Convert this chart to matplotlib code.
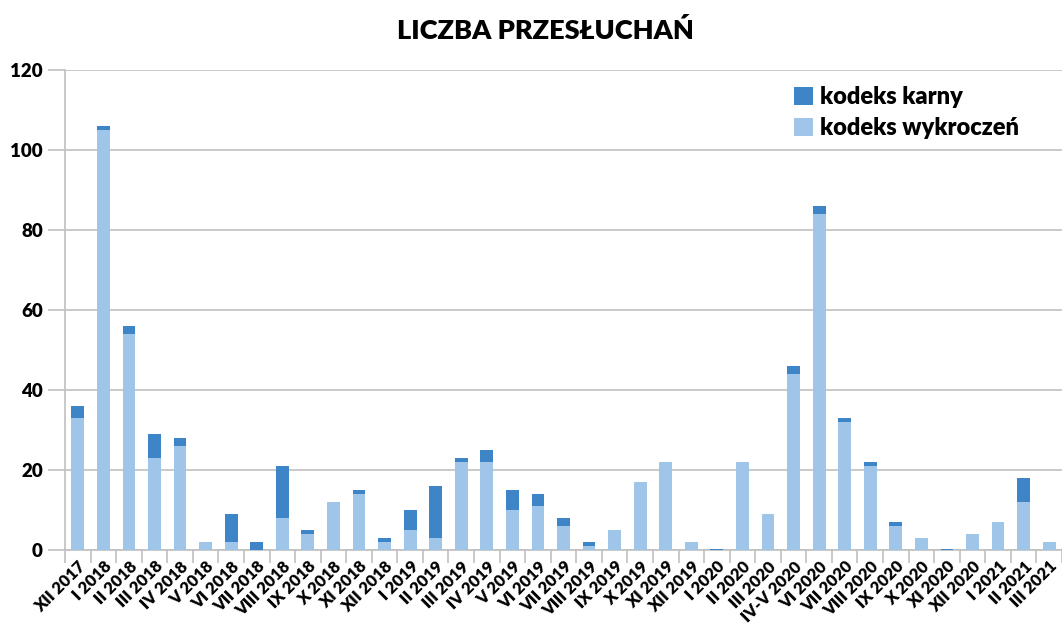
import numpy as np
import matplotlib
matplotlib.use('Agg')
import matplotlib.pyplot as plt
from matplotlib.ticker import FixedLocator, NullFormatter

months = ['XII 2017', 'I 2018', 'II 2018', 'III 2018', 'IV 2018', 'V 2018', 'VI 2018',
          'VII 2018', 'VIII 2018', 'IX 2018', 'X 2018', 'XI 2018', 'XII 2018', 'I 2019',
          'II 2019', 'III 2019', 'IV 2019', 'V 2019', 'VI 2019', 'VII 2019', 'VIII 2019',
          'IX 2019', 'X 2019', 'XI 2019', 'XII 2019', 'I 2020', 'II 2020', 'III 2020',
          'IV-V 2020', 'VI 2020', 'VII 2020', 'VIII 2020', 'IX 2020', 'X 2020', 'XI 2020',
          'XII 2020', 'I 2021', 'II 2021', 'III 2021']

wykroczen = [33, 105, 54, 23, 26, 2, 2, 0, 8, 4, 12, 14, 2, 5, 3, 22, 22, 10, 11, 6, 1,
             5, 17, 22, 2, 0, 22, 9, 44, 84, 32, 21, 6, 3, 0, 4, 7, 12, 2]
karny = [3, 1, 2, 6, 2, 0, 7, 2, 13, 1, 0, 1, 1, 5, 13, 1, 3, 5, 3, 2, 1,
         0, 0, 0, 0, 0.3, 0, 0, 2, 2, 1, 1, 1, 0, 0.3, 0, 0, 6, 0]

light = '#9fc5e8'
dark = '#3d85c6'
grid_c = '#c0c0c0'

plt.rcParams['font.family'] = ['Lato', 'DejaVu Sans']

fig = plt.figure(figsize=(10.62, 6.27), dpi=100)
ax = fig.add_axes([65 / 1062, 1 - 550 / 627, 1 - 65 / 1062, 480 / 627])

x = np.arange(len(months))
ax.bar(x, wykroczen, width=0.5, color=light, label='kodeks wykroczeń', zorder=3)
ax.bar(x, karny, width=0.5, bottom=wykroczen, color=dark, label='kodeks karny', zorder=3)

ax.set_xlim(-0.5, len(months) - 0.5)
ax.set_ylim(0, 120)
ax.set_yticks(range(0, 121, 20))
ax.yaxis.grid(True, color=grid_c, linewidth=1.2, zorder=0)
ax.tick_params(axis='y', length=12, width=1.2, color=grid_c, labelsize=13.5, pad=4)
for lab in ax.get_yticklabels():
    lab.set_fontweight('heavy')

# category boundary ticks on x axis, labels in the middle
ax.xaxis.set_major_locator(FixedLocator(np.arange(-0.5, len(months), 1)))
ax.xaxis.set_major_formatter(NullFormatter())
ax.xaxis.set_minor_locator(FixedLocator(x))
ax.set_xticklabels(months, minor=True, rotation=45, ha='right', va='top',
                   rotation_mode='anchor', fontsize=12, fontweight='heavy')
ax.tick_params(axis='x', which='major', length=9, width=1.2, color=grid_c)
ax.tick_params(axis='x', which='minor', length=0, pad=6)

for s in ['top', 'right']:
    ax.spines[s].set_visible(False)
ax.spines['left'].set_color(grid_c)
ax.spines['left'].set_linewidth(1.2)
ax.spines['bottom'].set_color(grid_c)
ax.spines['bottom'].set_linewidth(1.2)

h, l = ax.get_legend_handles_labels()
leg = ax.legend(h[::-1], l[::-1], loc='upper left', bbox_to_anchor=(0.71, 1.01),
                frameon=False, prop={'weight': 'heavy', 'size': 17},
                handlelength=0.8, handleheight=0.8, handletextpad=0.3, labelspacing=0.38)

fig.text(0.514, 0.952, 'LICZBA PRZESŁUCHAŃ', ha='center', va='center',
         fontsize=19.5, fontweight='heavy')

fig.savefig('out.png', dpi=100)
